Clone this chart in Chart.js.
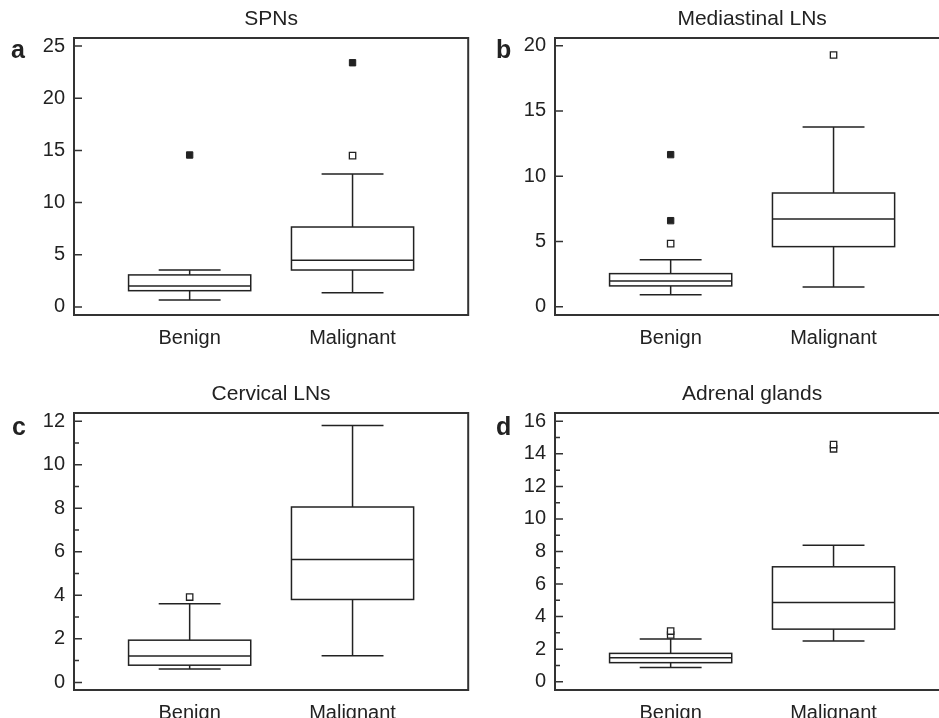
<!DOCTYPE html>
<html>
<head>
<meta charset="utf-8">
<script src="https://cdn.jsdelivr.net/npm/chart.js@4.4.1/dist/chart.umd.min.js"></script>
<style>
  html, body { margin: 0; padding: 0; background: #fff; overflow: hidden; }
  body { width: 939px; height: 718px; position: relative; }
  .panel { position: absolute; width: 474px; height: 360px; }
</style>
</head>
<body>
<div class="panel" style="left:0;top:0"><canvas id="chart-a"></canvas></div>
<div class="panel" style="left:481px;top:0"><canvas id="chart-b"></canvas></div>
<div class="panel" style="left:0;top:375px"><canvas id="chart-c"></canvas></div>
<div class="panel" style="left:481px;top:375px"><canvas id="chart-d"></canvas></div>
<script>
const categories = ['Benign', 'Malignant'];

// box stats: [lower whisker, Q1, median, Q3, upper whisker]
const spnsBenign = [0.67, 1.56, 2.0, 3.07, 3.54];
const spnsMalignant = [1.37, 3.54, 4.47, 7.66, 12.74];
const spnsOutside = [[], [14.5]];        // open squares
const spnsFarOut = [[14.56], [23.4]];    // filled squares
const spnsTicks = [0, 5, 10, 15, 20, 25];

const mediastinalBenign = [0.92, 1.59, 1.97, 2.53, 3.6];
const mediastinalMalignant = [1.51, 4.6, 6.72, 8.71, 13.77];
const mediastinalOutside = [[4.83], [19.29]];
const mediastinalFarOut = [[6.59, 11.65], []];
const mediastinalTicks = [0, 5, 10, 15, 20];

const cervicalBenign = [0.61, 0.79, 1.21, 1.94, 3.61];
const cervicalMalignant = [1.22, 3.81, 5.65, 8.06, 11.8];
const cervicalOutside = [[3.92], []];
const cervicalFarOut = [[], []];
const cervicalTicks = [0, 1, 2, 3, 4, 5, 6, 7, 8, 9, 10, 11, 12];

const adrenalBenign = [0.88, 1.17, 1.47, 1.74, 2.63];
const adrenalMalignant = [2.5, 3.23, 4.87, 7.06, 8.38];
const adrenalOutside = [[2.87, 3.11], [14.31, 14.57]];
const adrenalFarOut = [[], []];
const adrenalTicks = [0, 1, 2, 3, 4, 5, 6, 7, 8, 9, 10, 11, 12, 13, 14, 15, 16];

const FONT = '"Liberation Sans", Arial, Helvetica, sans-serif';
const INK = '#222';

const panels = [
    { id: 'chart-a', title: 'SPNs', letter: 'a', boxes: [spnsBenign, spnsMalignant],
      outside: spnsOutside, farOut: spnsFarOut, ticks: spnsTicks, labelEvery: 5,
      yMin: -0.77, yMax: 25.77, letterDx: 63, letterDy: 20 },
    { id: 'chart-b', title: 'Mediastinal LNs', letter: 'b', boxes: [mediastinalBenign, mediastinalMalignant],
      outside: mediastinalOutside, farOut: mediastinalFarOut, ticks: mediastinalTicks, labelEvery: 5,
      yMin: -0.64, yMax: 20.59, letterDx: 59, letterDy: 20 },
    { id: 'chart-c', title: 'Cervical LNs', letter: 'c', boxes: [cervicalBenign, cervicalMalignant],
      outside: cervicalOutside, farOut: cervicalFarOut, ticks: cervicalTicks, labelEvery: 2,
      yMin: -0.35, yMax: 12.38, letterDx: 62, letterDy: 22 },
    { id: 'chart-d', title: 'Adrenal glands', letter: 'd', boxes: [adrenalBenign, adrenalMalignant],
      outside: adrenalOutside, farOut: adrenalFarOut, ticks: adrenalTicks, labelEvery: 2,
      yMin: -0.51, yMax: 16.51, letterDx: 59, letterDy: 22 }
];

// draws boxes and whiskers through the chart scales, plus frame, inward ticks and panel letter
const boxPlot = {
    id: 'boxPlot',
    beforeDatasetsDraw(chart, args, opts) {
        const { ctx, scales: { x, y } } = chart;
        ctx.save();
        ctx.strokeStyle = INK;
        ctx.lineWidth = 1.5;
        opts.boxes.forEach((b, i) => {
            const c = i + 1;
            const cx = x.getPixelForValue(c);
            const bl = x.getPixelForValue(c - 0.375), br = x.getPixelForValue(c + 0.375);
            const wl = x.getPixelForValue(c - 0.19), wr = x.getPixelForValue(c + 0.19);
            const [lo, q1, med, q3, hi] = b.map(v => y.getPixelForValue(v));
            ctx.beginPath();
            ctx.moveTo(cx, q3); ctx.lineTo(cx, hi);
            ctx.moveTo(cx, q1); ctx.lineTo(cx, lo);
            ctx.moveTo(wl, hi); ctx.lineTo(wr, hi);
            ctx.moveTo(wl, lo); ctx.lineTo(wr, lo);
            ctx.stroke();
            ctx.fillStyle = '#fff';
            ctx.fillRect(bl, q3, br - bl, q1 - q3);
            ctx.strokeRect(bl, q3, br - bl, q1 - q3);
            ctx.beginPath();
            ctx.moveTo(bl, med); ctx.lineTo(br, med);
            ctx.stroke();
        });
        ctx.restore();
    },
    afterDraw(chart, args, opts) {
        const { ctx, chartArea: a, scales: { y } } = chart;
        ctx.save();
        ctx.strokeStyle = '#333';
        ctx.lineWidth = 1.5;
        ctx.beginPath();
        y.ticks.forEach(t => {
            const py = y.getPixelForValue(t.value);
            const len = t.value % opts.labelEvery === 0 ? 8 : 5;
            ctx.moveTo(a.left, py);
            ctx.lineTo(a.left + len, py);
        });
        ctx.stroke();
        ctx.lineWidth = 2;
        ctx.strokeRect(a.left, a.top, a.right - a.left, a.bottom - a.top);
        ctx.fillStyle = INK;
        ctx.font = 'bold 25px ' + FONT;
        ctx.textAlign = 'left';
        ctx.textBaseline = 'alphabetic';
        ctx.fillText(opts.letter, a.left - opts.letterDx, a.top + opts.letterDy);
        ctx.restore();
    }
};

function pointsFor(lists) {
    const pts = [];
    lists.forEach((vals, i) => vals.forEach(v => pts.push({ x: i + 1, y: v })));
    return pts;
}

panels.forEach(p => {
    new Chart(document.getElementById(p.id), {
        type: 'scatter',
        data: {
            datasets: [
                {
                    label: 'Outside values',
                    data: pointsFor(p.outside),
                    pointStyle: 'rect',
                    radius: 4.5,
                    borderWidth: 1.3,
                    borderColor: INK,
                    backgroundColor: '#fff'
                },
                {
                    label: 'Far out values',
                    data: pointsFor(p.farOut),
                    pointStyle: 'rect',
                    radius: 4.5,
                    borderWidth: 1,
                    borderColor: INK,
                    backgroundColor: INK
                }
            ]
        },
        options: {
            responsive: true,
            maintainAspectRatio: false,
            animation: false,
            layout: { padding: { left: 0, right: 2, top: 0, bottom: 0 } },
            plugins: {
                legend: { display: false },
                tooltip: { enabled: false },
                title: {
                    display: true,
                    text: p.title,
                    fullSize: false,
                    color: INK,
                    font: { family: FONT, size: 21, weight: 'normal' },
                    padding: { top: 7, bottom: 5.8 }
                },
                boxPlot: { boxes: p.boxes, labelEvery: p.labelEvery, letter: p.letter,
                           letterDx: p.letterDx, letterDy: p.letterDy }
            },
            scales: {
                x: {
                    type: 'linear',
                    min: 0.29,
                    max: 2.71,
                    afterBuildTicks: s => { s.ticks = categories.map((c, i) => ({ value: i + 1 })); },
                    afterFit: s => { s.height = 45; },
                    grid: { display: false, drawTicks: false },
                    border: { display: false },
                    ticks: {
                        callback: v => categories[v - 1],
                        color: INK,
                        font: { family: FONT, size: 20 },
                        padding: 11,
                        maxRotation: 0,
                        autoSkip: false
                    }
                },
                y: {
                    min: p.yMin,
                    max: p.yMax,
                    afterBuildTicks: s => { s.ticks = p.ticks.map(v => ({ value: v })); },
                    afterFit: s => { s.width = 74; },
                    grid: { display: false, drawTicks: false },
                    border: { display: false },
                    ticks: {
                        callback: v => (v % p.labelEvery === 0 ? String(v) : ''),
                        color: INK,
                        font: { family: FONT, size: 20 },
                        padding: 9,
                        autoSkip: false
                    }
                }
            }
        },
        plugins: [boxPlot]
    });
});
</script>
</body>
</html>
